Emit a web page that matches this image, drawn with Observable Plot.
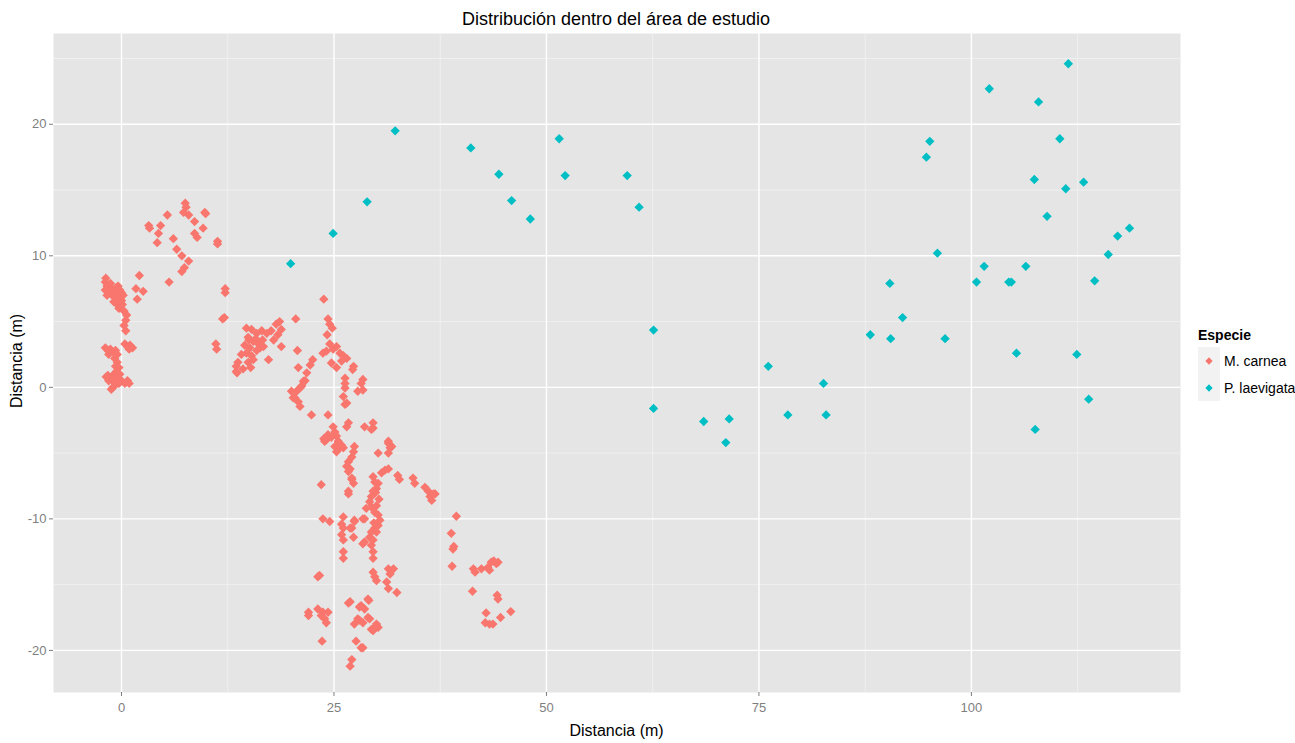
<!DOCTYPE html>
<html>
<head>
<meta charset="utf-8">
<script src="https://cdn.jsdelivr.net/npm/d3@7"></script>
<script src="https://cdn.jsdelivr.net/npm/@observablehq/plot@0.6"></script>
<style>
  html, body { margin: 0; padding: 0; background: #fff; }
  #wrap { position: relative; width: 1295px; height: 743px; font-family: "Liberation Sans", Arial, sans-serif; }
  #chart { position: absolute; left: 0; top: 0; }
  .title { position: absolute; left: 0; width: 1232px; top: 9px; text-align: center; font-size: 18px; color: #000; }
  .xlab { position: absolute; left: 53px; width: 1127px; top: 722px; text-align: center; font-size: 16px; color: #000; }
  .ylab { position: absolute; left: 17px; top: 361px; transform: translate(-50%, -50%) rotate(-90deg); font-size: 16px; color: #000; white-space: nowrap; }
  .legend { position: absolute; left: 1198px; top: 327px; font-size: 14px; color: #000; white-space: nowrap; }
  .legend .lt { font-weight: bold; font-size: 14px; margin-bottom: 4px; }
  .legend .row { display: flex; align-items: center; height: 27px; }
  .legend .key { width: 22px; height: 27px; background: #F2F2F2; display: flex; align-items: center; justify-content: center; flex: none; }
  .legend .lbl { margin-left: 4px; }
</style>
</head>
<body>
<div id="wrap">
  <div id="chart"></div>
  <div class="title">Distribución dentro del área de estudio</div>
  <div class="xlab">Distancia (m)</div>
  <div class="ylab">Distancia (m)</div>
  <div class="legend" id="legend"></div>
</div>
<script>
// Species names and colours
const species = ["M. carnea", "P. laevigata"];
const speciesColors = ["#F8766D", "#00BFC4"];

// Tick values
const xTicks = [0, 25, 50, 75, 100];
const yTicks = [-20, -10, 0, 10, 20];
const xMinor = [12.5, 37.5, 62.5, 87.5, 112.5];
const yMinor = [-15, -5, 5, 15, 25];

// M. carnea positions [x, y] (m)
const carnea = [
  [-1.85,8.3],[-1.9,8.0],[-1.7,7.7],[-1.9,7.4],[-1.5,7.6],[-1.2,7.5],[-0.9,7.4],[-0.6,7.6],[-0.4,7.7],[-0.2,7.4],[0.0,7.2],[0.2,7.0],
  [-1.5,7.2],[-1.1,7.0],[-0.7,6.9],[-0.3,6.8],[0.0,6.6],[-0.9,6.5],[-0.5,6.3],[-0.3,6.0],[0.1,6.3],[-1.3,7.9],[-0.8,7.1],[-1.7,7.0],
  [0.3,5.8],[0.6,5.5],[0.5,5.1],[0.3,4.7],[0.5,4.3],[0.4,3.3],[0.7,3.1],[1.0,3.2],[1.3,3.0],[0.9,2.9],
  [-1.9,3.0],[-1.6,2.8],[-1.3,2.9],[-1.0,2.7],[-0.7,2.8],[-0.5,2.5],[-1.5,2.5],[-0.8,2.2],[-0.5,1.9],[-0.7,1.6],[-0.3,1.5],[-0.6,1.2],
  [-0.2,1.0],[-0.9,1.0],[-1.8,0.8],[-1.5,0.5],[-1.2,0.7],[-0.9,0.4],[-0.6,0.6],[-0.3,0.3],[0.0,0.5],[0.4,0.3],[0.7,0.5],[0.9,0.3],
  [-1.0,0.0],[-0.7,0.2],[-1.6,0.9],[-1.2,-0.15],
  [2.1,8.5],[1.7,7.5],[1.85,6.7],[2.55,7.3],[5.6,8.0],[12.2,7.5],[12.2,7.2],[11.9,5.2],[12.1,5.3],[11.1,3.3],[11.2,2.9],[13.5,1.6],[13.6,1.1],
  [7.5,14.0],[7.6,13.7],[7.3,13.3],[7.9,13.1],[8.6,12.6],[9.8,13.3],[9.9,13.2],[9.6,12.1],[8.6,11.7],[8.9,11.4],[5.4,13.1],[4.6,12.3],
  [3.2,12.3],[3.3,12.1],[4.35,11.7],[4.2,11.0],[6.1,11.3],[6.5,10.5],[7.1,10.0],[7.9,9.6],[7.4,9.1],[7.1,8.8],[11.3,11.1],[11.3,10.9],
  [14.7,4.5],[15.3,4.4],[15.9,4.1],[16.5,4.3],[17.1,4.1],[17.6,4.3],[18.2,4.8],[18.6,5.0],[18.8,4.4],[14.9,3.8],[15.5,3.5],[16.1,3.3],
  [16.3,3.0],[16.7,3.1],[15.1,3.0],[14.7,2.6],[15.3,2.4],[14.1,2.5],[13.7,1.9],[13.5,1.2],[14.9,1.9],[15.5,2.1],[17.3,2.1],[18.8,3.1],
  [15.0,3.6],[15.8,3.7],[16.6,3.6],[14.5,3.2],[15.9,2.8],[15.2,1.5],[14.3,1.4],[17.9,3.6],[18.4,4.0],
  [20.5,5.2],[20.7,2.8],[20.8,1.5],[23.8,6.7],
  [22.5,2.1],[22.2,1.7],[21.8,1.1],[21.6,0.5],[21.2,0.1],[20.6,-0.3],[20.0,-0.3],[20.2,-0.8],[20.8,-1.1],[21.0,-1.45],[21.4,0.46],[21.0,-0.05],[20.4,-0.8],
  [22.35,-2.1],[24.3,-2.1],
  [24.3,5.2],[24.5,4.8],[24.8,4.5],[24.2,4.0],[24.5,3.3],[24.1,2.75],[23.7,2.6],[24.9,2.9],[25.3,3.1],[25.7,2.6],[26.1,2.4],[26.5,2.2],
  [25.9,2.0],[27.3,1.6],[27.2,1.35],[24.7,1.85],[25.3,1.5],[26.3,0.7],[26.3,0.3],[26.3,-0.05],[28.4,0.6],[28.2,0.3],[27.8,-0.3],[28.4,-0.2],
  [26.1,-0.7],[26.3,-1.3],[26.5,-1.2],
  [24.9,-3.0],[25.1,-3.4],[25.3,-3.7],[24.7,-3.8],[24.1,-4.0],[23.9,-4.1],[25.5,-4.1],[25.9,-4.4],[25.1,-4.5],[25.3,-4.9],[26.1,-4.6],
  [26.5,-3.0],[26.7,-2.7],[23.8,-3.9],[24.3,-3.6],[25.7,-4.6],
  [28.6,-3.0],[29.6,-2.7],[29.6,-3.1],[29.4,-3.2],
  [27.4,-4.5],[27.3,-4.9],[27.1,-5.3],[26.7,-5.65],[26.5,-6.0],[26.7,-6.4],[27.1,-6.9],[27.3,-7.3],[26.7,-7.9],[26.9,-6.2],[26.7,-8.1],
  [31.4,-4.25],[31.6,-4.6],[31.8,-4.5],[31.4,-5.0],[30.2,-5.0],[31.4,-4.1],
  [31.0,-6.3],[30.6,-6.5],[31.4,-6.2],
  [29.6,-6.8],[29.8,-7.2],[30.2,-7.3],[30.0,-7.7],[29.6,-7.9],[29.4,-8.3],[29.2,-8.7],[29.4,-9.1],[29.8,-9.5],[30.2,-9.7],[30.4,-10.1],
  [30.2,-10.5],[29.8,-10.7],[29.4,-11.0],[29.2,-11.4],[29.6,-11.6],[29.4,-12.0],[29.6,-12.5],[29.6,-13.0],[28.8,-9.2],[28.6,-10.0],
  [28.6,-11.75],[30.0,-11.0],[28.4,-11.9],[29.9,-8.0],[30.3,-8.5],[30.0,-9.0],[29.7,-10.3],
  [32.5,-6.7],[32.7,-7.0],[34.3,-6.9],[34.5,-7.3],[35.7,-7.6],[36.1,-7.9],[36.3,-8.3],[36.9,-8.1],[36.5,-8.6],[36.7,-8.1],
  [23.5,-7.4],[27.1,-7.0],[23.7,-10.0],[24.5,-10.2],
  [26.1,-9.85],[25.9,-10.4],[26.1,-10.7],[25.9,-11.2],[26.1,-11.6],[27.3,-11.4],[27.1,-10.7],[27.4,-10.1],[28.4,-10.0],[26.1,-12.5],
  [26.1,-13.0],[26.9,-10.7],[27.4,-10.2],
  [23.3,-14.3],[23.1,-14.4],[22.0,-17.1],[22.0,-17.35],[23.1,-16.85],[23.7,-17.1],[24.3,-17.1],[23.9,-17.6],[23.5,-17.35],[24.1,-17.9],[23.6,-19.3],
  [26.9,-16.3],[28.0,-16.7],[28.6,-16.85],[27.8,-17.6],[27.4,-18.0],[28.4,-17.9],[29.2,-17.6],[29.0,-16.1],[30.0,-18.1],[29.4,-18.4],
  [30.2,-18.25],[27.6,-19.3],[28.2,-19.8],[28.4,-19.8],[27.1,-20.7],[26.9,-21.2],[26.7,-16.4],[28.2,-16.6],[29.1,-16.2],[29.0,-17.5],
  [28.0,-17.7],[29.6,-18.5],[30.0,-18.0],
  [29.6,-14.05],[29.8,-14.4],[30.0,-14.7],[31.4,-13.8],[32.0,-13.8],[31.6,-14.2],[31.2,-14.8],[31.4,-15.3],[32.4,-15.6],
  [39.4,-9.8],[38.8,-11.1],[39.0,-12.3],[39.1,-12.1],[38.9,-13.6],[41.4,-13.8],[41.6,-14.05],[42.35,-13.8],[43.1,-13.7],[43.5,-13.3],
  [44.1,-13.4],[44.3,-13.3],[43.3,-13.9],[43.8,-13.2],[41.3,-15.5],[44.2,-15.8],[44.3,-16.1],[42.9,-17.15],[42.8,-17.9],[43.3,-18.0],
  [43.7,-18.0],[44.6,-17.5],[45.8,-17.05]
];

// P. laevigata positions [x, y] (m)
const laevigata = [
  [19.9,9.4],[24.9,11.7],[28.9,14.1],[32.2,19.5],[41.1,18.2],[44.4,16.2],[45.9,14.2],[48.1,12.8],[51.5,18.9],[52.2,16.1],
  [59.5,16.1],[60.9,13.7],[62.6,4.35],[62.6,-1.6],[68.5,-2.6],[71.1,-4.2],[71.5,-2.4],[76.1,1.6],[78.4,-2.1],[82.6,0.3],
  [82.9,-2.1],[88.1,4.0],[90.4,7.9],[90.5,3.7],[91.9,5.3],[94.7,17.5],[95.1,18.7],[96.0,10.2],[96.9,3.7],[100.6,8.0],
  [101.5,9.2],[102.1,22.7],[104.4,8.0],[104.7,8.0],[105.3,2.6],[106.4,9.2],[107.4,15.8],[107.5,-3.2],[107.9,21.7],[108.9,13.0],
  [110.4,18.9],[111.1,15.1],[111.4,24.6],[112.4,2.5],[113.2,15.6],[113.8,-0.9],[114.5,8.1],[116.1,10.1],[117.2,11.5],[118.6,12.1]
];

const points = [
  ...carnea.map(([x, y]) => ({x, y, sp: species[0]})),
  ...laevigata.map(([x, y]) => ({x, y, sp: species[1]}))
];

const plot = Plot.plot({
  width: 1295,
  height: 743,
  marginLeft: 53,
  marginRight: 115,
  marginTop: 33,
  marginBottom: 51,
  style: { fontFamily: "Liberation Sans, Arial, sans-serif", fontSize: "12px", background: "transparent" },
  x: { domain: [-8.0, 124.6], label: null },
  y: { domain: [-23.2, 26.9], label: null },
  color: { domain: species, range: speciesColors },
  marks: [
    Plot.frame({ fill: "#E5E5E5", stroke: null }),
    Plot.gridX(xMinor, { stroke: "#F2F2F2", strokeOpacity: 1, strokeWidth: 0.8 }),
    Plot.gridY(yMinor, { stroke: "#F2F2F2", strokeOpacity: 1, strokeWidth: 0.8 }),
    Plot.gridX(xTicks, { stroke: "#FFFFFF", strokeOpacity: 1, strokeWidth: 1.4 }),
    Plot.gridY(yTicks, { stroke: "#FFFFFF", strokeOpacity: 1, strokeWidth: 1.4 }),
    Plot.dot(points, { x: "x", y: "y", fill: "sp", symbol: "diamond2", r: 4.2, stroke: null }),
    Plot.axisX(xTicks, { tickSize: 4, tickPadding: 6, stroke: "#7F7F7F", fill: "#7F7F7F", fontSize: 13, label: null, tickFormat: d => String(d) }),
    Plot.axisY(yTicks, { tickSize: 4, tickPadding: 3, stroke: "#7F7F7F", fill: "#7F7F7F", fontSize: 13, label: null, tickFormat: d => String(d) })
  ]
});
document.getElementById("chart").appendChild(plot);

// Legend (HTML)
const legend = document.getElementById("legend");
const lt = document.createElement("div");
lt.className = "lt";
lt.textContent = "Especie";
legend.appendChild(lt);
species.forEach((s, i) => {
  const row = document.createElement("div");
  row.className = "row";
  const key = document.createElement("div");
  key.className = "key";
  key.innerHTML = `<svg width="10" height="10" viewBox="-5 -5 10 10"><path d="${d3.symbol(d3.symbolDiamond2, 34)()}" fill="${speciesColors[i]}"/></svg>`;
  const lbl = document.createElement("span");
  lbl.className = "lbl";
  lbl.textContent = s;
  row.appendChild(key);
  row.appendChild(lbl);
  legend.appendChild(row);
});
</script>
</body>
</html>
